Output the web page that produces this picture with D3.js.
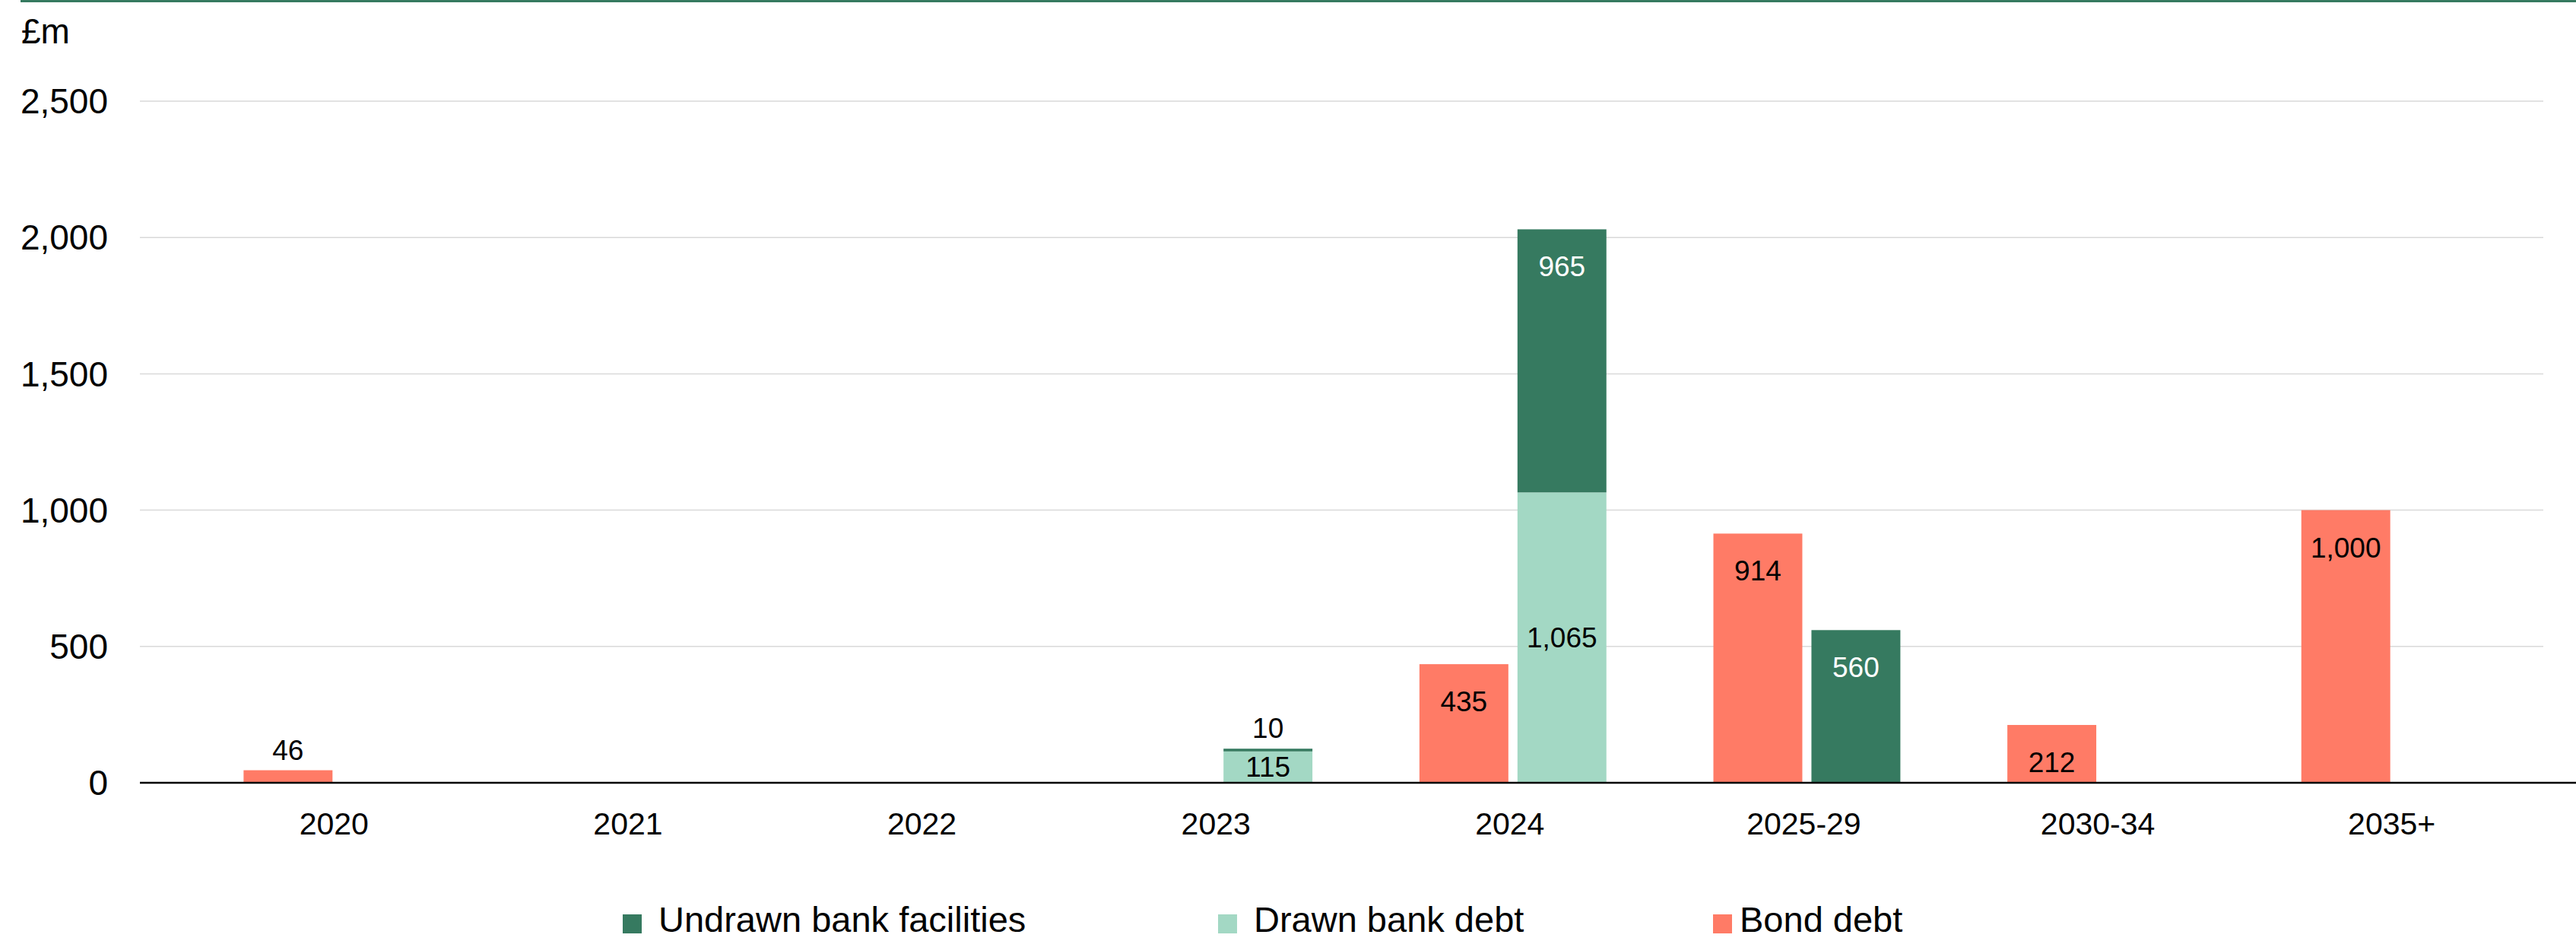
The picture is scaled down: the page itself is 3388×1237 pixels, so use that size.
<!DOCTYPE html>
<html>
<head>
<meta charset="utf-8">
<script src="https://cdn.jsdelivr.net/npm/d3@7"></script>
<style>
  body { margin: 0; background: #fff; }
  svg text { font-family: "Liberation Sans", Arial, sans-serif; fill: #000; }
</style>
</head>
<body>
<div id="chart"></div>
<script>
const width = 3388;
const height = 1237;

// maturity buckets
const categories = ["2020", "2021", "2022", "2023", "2024", "2025-29", "2030-34", "2035+"];

// £m
const bondDebt = [46, 0, 0, 0, 435, 914, 212, 1000];
const drawnBankDebt = [0, 0, 0, 115, 1065, 0, 0, 0];
const undrawnBankFacilities = [0, 0, 0, 10, 965, 560, 0, 0];

const yTicks = [0, 500, 1000, 1500, 2000, 2500];
const legendLabels = ["Undrawn bank facilities", "Drawn bank debt", "Bond debt"];

const colors = {
  undrawn: "#367a60",
  drawn: "#a3d8c4",
  bond: "#ff7b66"
};

const fmt = d3.format(",");

const svg = d3.select("#chart")
              .append("svg")
              .attr("width", width)
              .attr("height", height);

// top rule
svg.append("rect")
   .attr("x", 27)
   .attr("y", 0)
   .attr("width", width - 27)
   .attr("height", 3)
   .attr("fill", colors.undrawn);

const plotLeft = 184;
const plotRight = 3345;

const x0 = d3.scaleBand()
             .domain(categories)
             .range([250, 3343])
             .paddingInner(0.364)
             .paddingOuter(0.182);

const x1 = d3.scaleBand()
             .domain(["bond", "bank"])
             .range([0, x0.bandwidth()])
             .paddingInner(0.093);

const y = d3.scaleLinear()
            .domain([0, 2500])
            .range([1029, 133]);

// gridlines
svg.append("g")
   .selectAll("line")
   .data(yTicks.filter(d => d > 0))
   .enter()
   .append("line")
   .attr("x1", plotLeft)
   .attr("x2", plotRight)
   .attr("y1", d => y(d))
   .attr("y2", d => y(d))
   .attr("stroke", "#d9d9d9")
   .attr("stroke-width", 1.5);

// y axis labels
const yAxis = svg.append("g")
                 .attr("transform", `translate(${plotLeft},0)`)
                 .call(d3.axisLeft(y).tickValues(yTicks).tickFormat(fmt).tickSize(0).tickPadding(42));
yAxis.select(".domain").remove();
yAxis.selectAll("text")
     .attr("font-size", 46)
     .attr("font-family", "Liberation Sans, Arial, sans-serif")
     .attr("dy", "0.34em");

svg.append("text")
   .attr("x", 28)
   .attr("y", 57)
   .attr("font-size", 46)
   .text("£m");

// bond bars
const bondData = categories.map((c, i) => ({ cat: c, value: bondDebt[i] })).filter(d => d.value > 0);

svg.append("g")
   .selectAll("rect")
   .data(bondData)
   .enter()
   .append("rect")
   .attr("x", d => x0(d.cat) + x1("bond"))
   .attr("y", d => y(d.value))
   .attr("width", x1.bandwidth())
   .attr("height", d => y(0) - y(d.value))
   .attr("fill", colors.bond);

// bank bars, stacked
const bankRows = categories.map((c, i) => ({ cat: c, drawn: drawnBankDebt[i], undrawn: undrawnBankFacilities[i] }));
const stack = d3.stack().keys(["drawn", "undrawn"]);
const bankSeries = stack(bankRows);

const bankLayer = svg.append("g")
                     .selectAll("g")
                     .data(bankSeries)
                     .enter()
                     .append("g")
                     .attr("fill", s => colors[s.key]);

bankLayer.selectAll("rect")
         .data(s => s.filter(d => d[1] - d[0] > 0))
         .enter()
         .append("rect")
         .attr("x", d => x0(d.data.cat) + x1("bank"))
         .attr("y", d => y(d[1]))
         .attr("width", x1.bandwidth())
         .attr("height", d => y(d[0]) - y(d[1]));

// x axis
svg.append("line")
   .attr("x1", plotLeft)
   .attr("x2", width)
   .attr("y1", y(0))
   .attr("y2", y(0))
   .attr("stroke", "#000")
   .attr("stroke-width", 2.5);

const xAxis = svg.append("g")
                 .attr("transform", `translate(-4,${y(0)})`)
                 .call(d3.axisBottom(x0).tickSize(0));
xAxis.select(".domain").remove();
xAxis.selectAll("text")
     .attr("font-size", 41)
     .attr("font-family", "Liberation Sans, Arial, sans-serif")
     .attr("dy", null)
     .attr("y", 68);

// data labels
const labels = [];
bondData.forEach(d => {
  labels.push({ x: x0(d.cat) + x1("bond"), top: y(d.value), bottom: y(0), value: d.value, mode: "end", fill: "#000" });
});
bankSeries.forEach(s => {
  s.forEach(d => {
    const v = d[1] - d[0];
    if (v <= 0) return;
    labels.push({
      x: x0(d.data.cat) + x1("bank"),
      top: y(d[1]),
      bottom: y(d[0]),
      value: v,
      mode: s.key === "drawn" ? "center" : "end",
      fill: s.key === "drawn" ? "#000" : "#fff"
    });
  });
});

svg.append("g")
   .selectAll("text")
   .data(labels)
   .enter()
   .append("text")
   .attr("x", d => d.x + x1.bandwidth() / 2)
   .attr("y", d => {
     const h = d.bottom - d.top;
     if (d.mode === "center") return (d.top + d.bottom) / 2 + 13;
     if (h < 60) return d.top - 14;
     return d.top + 62;
   })
   .attr("text-anchor", "middle")
   .attr("font-size", 37)
   .style("fill", d => (d.mode === "end" && d.bottom - d.top < 60) ? "#000" : d.fill)
   .text(d => fmt(d.value));

// legend
const legendKeys = ["undrawn", "drawn", "bond"];
const legendX = [819, 1602, 2253];
const legend = svg.append("g")
                  .selectAll("g")
                  .data(legendKeys)
                  .enter()
                  .append("g")
                  .attr("transform", (d, i) => `translate(${legendX[i]},1202)`);

legend.append("rect")
      .attr("width", 25)
      .attr("height", 25)
      .attr("fill", d => colors[d]);

legend.append("text")
      .attr("x", (d, i) => i === 2 ? 35 : 47)
      .attr("y", 23)
      .attr("font-size", 47)
      .text((d, i) => legendLabels[i]);
</script>
</body>
</html>
